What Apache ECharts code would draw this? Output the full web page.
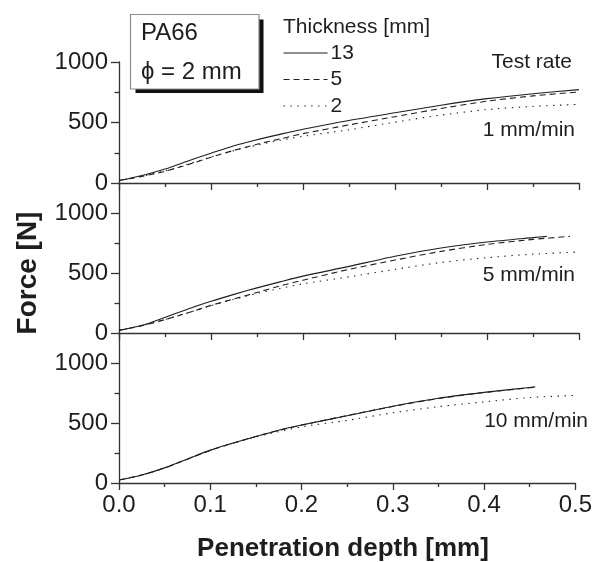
<!DOCTYPE html>
<html>
<head>
<meta charset="utf-8">
<title>PA66 indentation force vs. penetration depth</title>
<script src="https://cdn.jsdelivr.net/npm/echarts@6/dist/echarts.min.js"></script>
<style>
  html, body { margin: 0; padding: 0; background: #fff; }
  #chart { width: 595px; height: 562px; }
</style>
</head>
<body>
<div id="chart"></div>
<script>
// Legend entries: specimen thickness [mm]
const thicknesses = ['13', '5', '2'];
// Panel captions: test rate
const rates = ['1 mm/min', '5 mm/min', '10 mm/min'];
const xTicks = [0, 0.1, 0.2, 0.3, 0.4, 0.5];
const yMajorTicks = [0, 500, 1000];
const yMinorTicks = [250, 750];

// [penetration depth mm, force N] — test rate 1 mm/min
const r1_t13 = [[0,20],[0.025,62],[0.05,115],[0.075,182],[0.1,246],[0.125,308],[0.15,358],[0.175,402],[0.2,444],[0.25,517],[0.3,580],[0.35,643],[0.4,697],[0.45,738],[0.5,772]];
const r1_t5  = [[0,20],[0.025,55],[0.05,97],[0.075,152],[0.1,213],[0.125,270],[0.15,320],[0.175,364],[0.2,408],[0.25,480],[0.3,548],[0.35,616],[0.4,676],[0.45,720],[0.5,752]];
const r1_t2  = [[0,20],[0.025,56],[0.05,100],[0.075,157],[0.1,214],[0.125,268],[0.15,312],[0.175,353],[0.2,386],[0.25,440],[0.3,503],[0.35,561],[0.4,607],[0.45,633],[0.5,650]];

// test rate 5 mm/min
const r5_t13 = [[0,22],[0.025,64],[0.05,130],[0.075,200],[0.1,264],[0.125,322],[0.15,376],[0.175,426],[0.2,474],[0.25,555],[0.3,640],[0.35,708],[0.4,758],[0.45,795],[0.465,805]];
const r5_t5  = [[0,22],[0.025,60],[0.05,112],[0.075,168],[0.1,230],[0.125,284],[0.15,338],[0.175,392],[0.2,440],[0.25,530],[0.3,608],[0.35,680],[0.4,738],[0.45,780],[0.49,805]];
const r5_t2  = [[0,22],[0.025,60],[0.05,112],[0.075,168],[0.1,228],[0.125,280],[0.15,330],[0.175,371],[0.2,410],[0.25,468],[0.3,530],[0.35,588],[0.4,628],[0.45,657],[0.5,675]];

// test rate 10 mm/min
const r10_t13 = [[0,25],[0.025,67],[0.05,126],[0.075,200],[0.1,274],[0.125,333],[0.15,387],[0.175,440],[0.2,483],[0.25,560],[0.3,640],[0.35,706],[0.4,755],[0.45,796],[0.456,801]];
const r10_t5  = [[0,25],[0.025,66],[0.05,125],[0.075,198],[0.1,272],[0.125,332],[0.15,388],[0.175,438],[0.2,482],[0.25,562],[0.3,638],[0.35,704],[0.4,754],[0.45,794],[0.455,800]];
const r10_t2  = [[0,25],[0.025,67],[0.05,126],[0.075,200],[0.1,273],[0.125,332],[0.15,384],[0.175,428],[0.2,469],[0.25,522],[0.3,585],[0.35,636],[0.4,676],[0.45,712],[0.5,730]];

const panels = [
  { curves: [r1_t13, r1_t5, r1_t2], yMax: 1000 },
  { curves: [r5_t13, r5_t5, r5_t2], yMax: 1250 },
  { curves: [r10_t13, r10_t5, r10_t2], yMax: 1250 }
];

const FONT = 'Liberation Sans, Arial, Helvetica, sans-serif';
const INK = '#1e1e1e';
const AXIS = '#333';
const dashTypes = ['solid', [6, 4], [1.4, 5.5]];

const grids = [
  { left: 119, right: 16, top: 62, height: 121 },
  { left: 119, right: 16, top: 183, height: 150 },
  { left: 119, right: 16, top: 333, height: 150 }
];

const xAxes = grids.map((g, i) => ({
  type: 'value', gridIndex: i, min: xTicks[0], max: xTicks[xTicks.length - 1], interval: 0.1,
  axisLine: { show: true, lineStyle: { color: AXIS, width: 1.3 } },
  axisTick: { show: true, inside: false, length: 7, lineStyle: { color: AXIS, width: 1.3 } },
  minorTick: { show: true, splitNumber: 2, length: 4, lineStyle: { color: AXIS, width: 1.3 } },
  splitLine: { show: false },
  axisLabel: {
    show: i === grids.length - 1, fontSize: 24, color: INK, fontFamily: FONT, margin: 10,
    formatter: v => v.toFixed(1)
  }
}));

const yAxes = [];
panels.forEach((p, i) => {
  // major ticks with labels
  yAxes.push({
    type: 'value', gridIndex: i, min: 0, max: p.yMax, position: 'left',
    axisLine: { show: true, lineStyle: { color: AXIS, width: 1.3 } },
    axisTick: { show: true, inside: false, length: 8, customValues: yMajorTicks, lineStyle: { color: AXIS, width: 1.3 } },
    axisLabel: {
      show: true, customValues: yMajorTicks, fontSize: 24, color: INK, fontFamily: FONT, margin: 11,
      formatter: v => String(v)
    },
    splitLine: { show: false }
  });
  // minor ticks
  yAxes.push({
    type: 'value', gridIndex: i, min: 0, max: p.yMax, position: 'left', offset: 0,
    axisLine: { show: false },
    axisTick: { show: true, inside: false, length: 4.5, customValues: yMinorTicks, lineStyle: { color: AXIS, width: 1.3 } },
    axisLabel: { show: false },
    splitLine: { show: false }
  });
});

const series = [];
panels.forEach((p, i) => {
  p.curves.forEach((data, k) => {
    series.push({
      type: 'line', name: thicknesses[k],
      xAxisIndex: i, yAxisIndex: i * 2,
      data: data, symbol: 'none', smooth: 0.25, silent: true,
      lineStyle: { color: INK, width: 1.1, type: dashTypes[k] },
      itemStyle: { color: INK },
      z: 3 - k
    });
  });
});

const txt = (x, y, text, size, opts) => Object.assign({
  type: 'text', x: x, y: y,
  style: Object.assign({ text: text, font: size + 'px ' + FONT, fill: INK, textVerticalAlign: 'middle' }, opts || {})
});

const graphic = [
  // sample label box with drop shadow
  { type: 'rect', shape: { x: 135.5, y: 19.5, width: 128, height: 73.5 }, style: { fill: '#111' }, z: 10 },
  { type: 'rect', shape: { x: 130.5, y: 14.5, width: 128.5, height: 74.5 }, style: { fill: '#fff', stroke: '#8c8c8c', lineWidth: 1.2 }, z: 11 },
  Object.assign(txt(141, 33, 'PA66', 24), { z: 12 }),
  Object.assign(txt(141, 72.5, 'ϕ = 2 mm', 24), { z: 12 }),
  txt(283, 27, 'Thickness [mm]', 21),
  txt(572, 62, 'Test rate', 21, { textAlign: 'right' }),
  txt(575, 130, rates[0], 21, { textAlign: 'right' }),
  txt(575, 275, rates[1], 21, { textAlign: 'right' }),
  txt(588, 421, rates[2], 21, { textAlign: 'right' }),
  // axis titles
  { type: 'text', x: 28, y: 273, rotation: Math.PI / 2,
    style: { text: 'Force [N]', font: 'bold 28px ' + FONT, fill: INK, textAlign: 'center', textVerticalAlign: 'middle' } },
  { type: 'text', x: 343, y: 549,
    style: { text: 'Penetration depth [mm]', font: 'bold 26px ' + FONT, fill: INK, textAlign: 'center', textVerticalAlign: 'middle' } }
];

const chart = echarts.init(document.getElementById('chart'), null, { renderer: 'canvas' });
chart.setOption({
  animation: false,
  backgroundColor: '#fff',
  grid: grids,
  xAxis: xAxes,
  yAxis: yAxes,
  legend: {
    data: thicknesses, orient: 'vertical', left: 283, top: 42.5,
    itemWidth: 44, itemHeight: 14, itemGap: 5.5,
    selectedMode: false,
    itemStyle: { opacity: 0 },
    lineStyle: { width: 1.1 },
    textStyle: { fontSize: 21, color: INK, fontFamily: FONT, padding: [0, 0, 0, -2] },
    padding: 0
  },
  series: series,
  graphic: graphic
});
</script>
</body>
</html>
